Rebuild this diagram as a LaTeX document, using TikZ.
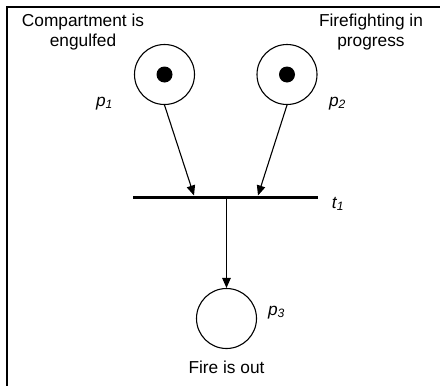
\documentclass[tikz,border=0pt]{standalone}
\usepackage{fontspec}
\setmainfont{Liberation Sans}
\usetikzlibrary{arrows.meta}
\begin{document}
\begin{tikzpicture}[x=1pt,y=-1pt,
  place/.style={circle,draw,line width=1.1pt,minimum size=60pt,inner sep=0pt},
  token/.style={circle,fill=black,minimum size=16pt,inner sep=0pt},
  lbl/.style={font=\fontsize{17.3}{20}\selectfont,inner sep=0pt,anchor=base},
  arc/.style={line width=1.1pt,-{Triangle[length=10pt,width=8.5pt]}},
  frame/.style={line width=2pt},
]
\useasboundingbox (0,0) rectangle (440,386);
% frame (top and left edges visible)
\coordinate (fbl) at (7,390);
\coordinate (ftl) at (7,7);
\coordinate (ftr) at (444,7);
\draw[frame] (fbl) -- (ftl) -- (ftr);

% places
\node[place] (p1) at (164.5,74.5) {};
\node[place] (p2) at (287,74.5) {};
\node[place] (p3) at (226.5,318.5) {};
\node[token] (k1) at (p1) {};
\node[token] (k2) at (p2) {};

% transition
\node[fill=black,minimum width=185pt,minimum height=3pt,inner sep=0pt] (t1) at (225.5,197) {};
\coordinate (in1) at (194,195.5);
\coordinate (in2) at (258,195.5);

% arcs
\draw[arc] (p1.south) -- (in1);
\draw[arc] (p2.south) -- (in2);
\draw[arc] (p3.north |- t1.south) -- (p3.north);

% labels
\node[lbl] (d1a) at (83,26.5) {Compartment is};
\node[lbl] (d1b) at (83,46.5) {engulfed};
\node[lbl] (d2a) at (371,26.5) {Firefighting in};
\node[lbl] (d2b) at (371,46.5) {progress};
\node[lbl] (d3) at (226.5,373) {Fire is out};

\node[lbl] (lp1) at (104.5,106) {\itshape p\textsubscript{1}};
\node[lbl] (lp2) at (337.5,106) {\itshape p\textsubscript{2}};
\node[lbl] (lp3) at (276.5,315) {\itshape p\textsubscript{3}};
\node[lbl] (lt1) at (338,208) {\itshape t\textsubscript{1}};
\end{tikzpicture}
\end{document}
